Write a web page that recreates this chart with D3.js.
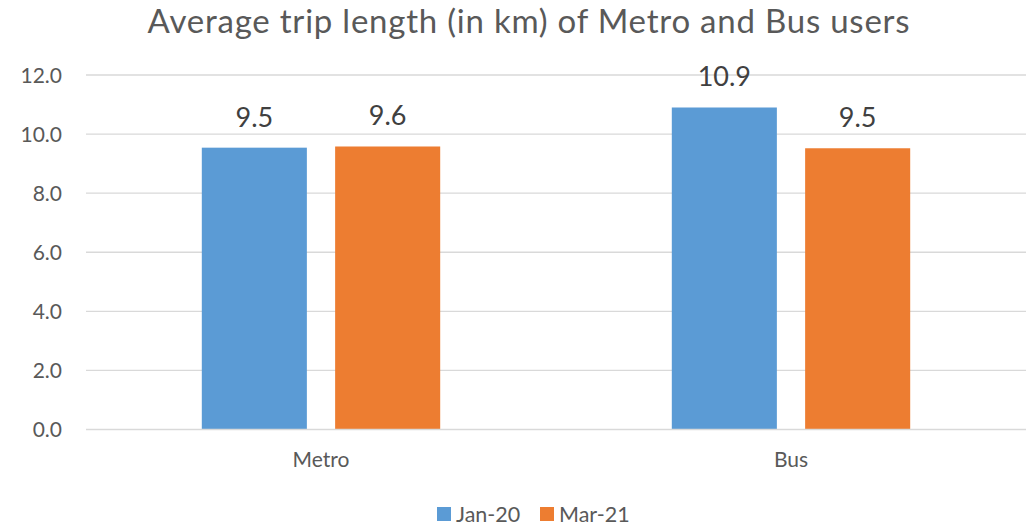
<!DOCTYPE html>
<html><head><meta charset="utf-8">
<script src="https://cdn.jsdelivr.net/npm/d3@7"></script>
<style>
html,body{margin:0;padding:0;background:#fff;}
svg{display:block;font-family:Lato, "Open Sans", sans-serif;}
</style></head>
<body>
<svg id="chart" width="1033" height="527"></svg>
<script>
const categories = ["Metro", "Bus"];
const seriesNames = ["Jan-20", "Mar-21"];
const jan20 = [9.54, 10.9];
const mar21 = [9.58, 9.52];
const yTicks = [0, 2, 4, 6, 8, 10, 12];
const colors = ["#5B9BD5", "#ED7D31"];
const title = "Average trip length (in km) of Metro and Bus users";

const svg = d3.select("#chart");
const margin = {left: 86, right: 1026, top: 75, bottom: 429.5};
const x0 = d3.scaleBand().domain(categories).range([margin.left, margin.right]).paddingInner(0).paddingOuter(0);
const y = d3.scaleLinear().domain([0, 12]).range([margin.bottom, margin.top]);
const x1 = d3.scaleBand().domain(seriesNames).range([115.8, 470 - 115.8]).paddingInner(0.212).paddingOuter(0);

// gridlines
svg.append("g").selectAll("line").data(yTicks.filter(d => d > 0)).join("line")
  .attr("x1", margin.left).attr("x2", margin.right)
  .attr("y1", d => y(d)).attr("y2", d => y(d))
  .attr("stroke", "#D9D9D9").attr("stroke-width", 1.3);

// y tick labels
svg.append("g").selectAll("text").data(yTicks).join("text")
  .attr("x", 62).attr("y", d => y(d)).attr("dy", "0.36em")
  .attr("text-anchor", "end").attr("fill", "#595959").attr("font-size", 21)
  .text(d => d.toFixed(1));

const data = [];
categories.forEach((c, i) => {
  data.push({cat: c, s: seriesNames[0], v: jan20[i], col: colors[0]});
  data.push({cat: c, s: seriesNames[1], v: mar21[i], col: colors[1]});
});

svg.append("g").selectAll("rect").data(data).join("rect")
  .attr("x", d => x0(d.cat) + x1(d.s))
  .attr("width", x1.bandwidth())
  .attr("y", d => y(d.v))
  .attr("height", d => y(0) - y(d.v))
  .attr("fill", d => d.col);

// baseline axis
svg.append("line").attr("x1", margin.left).attr("x2", margin.right)
  .attr("y1", y(0)).attr("y2", y(0)).attr("stroke", "#D9D9D9").attr("stroke-width", 1.5);

// data labels
svg.append("g").selectAll("text").data(data).join("text")
  .attr("x", d => x0(d.cat) + x1(d.s) + x1.bandwidth() / 2)
  .attr("y", d => y(d.v) - 21)
  .attr("text-anchor", "middle").attr("fill", "#404040").attr("font-size", 27)
  .text(d => d.v.toFixed(1));

// category labels
svg.append("g").selectAll("text").data(categories).join("text")
  .attr("x", d => x0(d) + x0.bandwidth() / 2).attr("y", 467)
  .attr("text-anchor", "middle").attr("fill", "#595959").attr("font-size", 21)
  .text(d => d);

// title
const t = svg.append("text").attr("x", 529).attr("y", 33)
  .attr("text-anchor", "middle").attr("fill", "#595959").attr("font-size", 33)
  .text(title);
const tw = t.node().getComputedTextLength();
const extra = Math.max(0, (762 - tw) / (title.length - 1));
t.attr("letter-spacing", extra);

// legend
const leg = svg.append("g");
const legX = [437, 540];
seriesNames.forEach((s, i) => {
  leg.append("rect").attr("x", legX[i]).attr("y", 507).attr("width", 14).attr("height", 14).attr("fill", colors[i]);
  leg.append("text").attr("x", legX[i] + 19).attr("y", 521.5).attr("fill", "#595959").attr("font-size", 21.5).text(s);
});
</script>
</body></html>
